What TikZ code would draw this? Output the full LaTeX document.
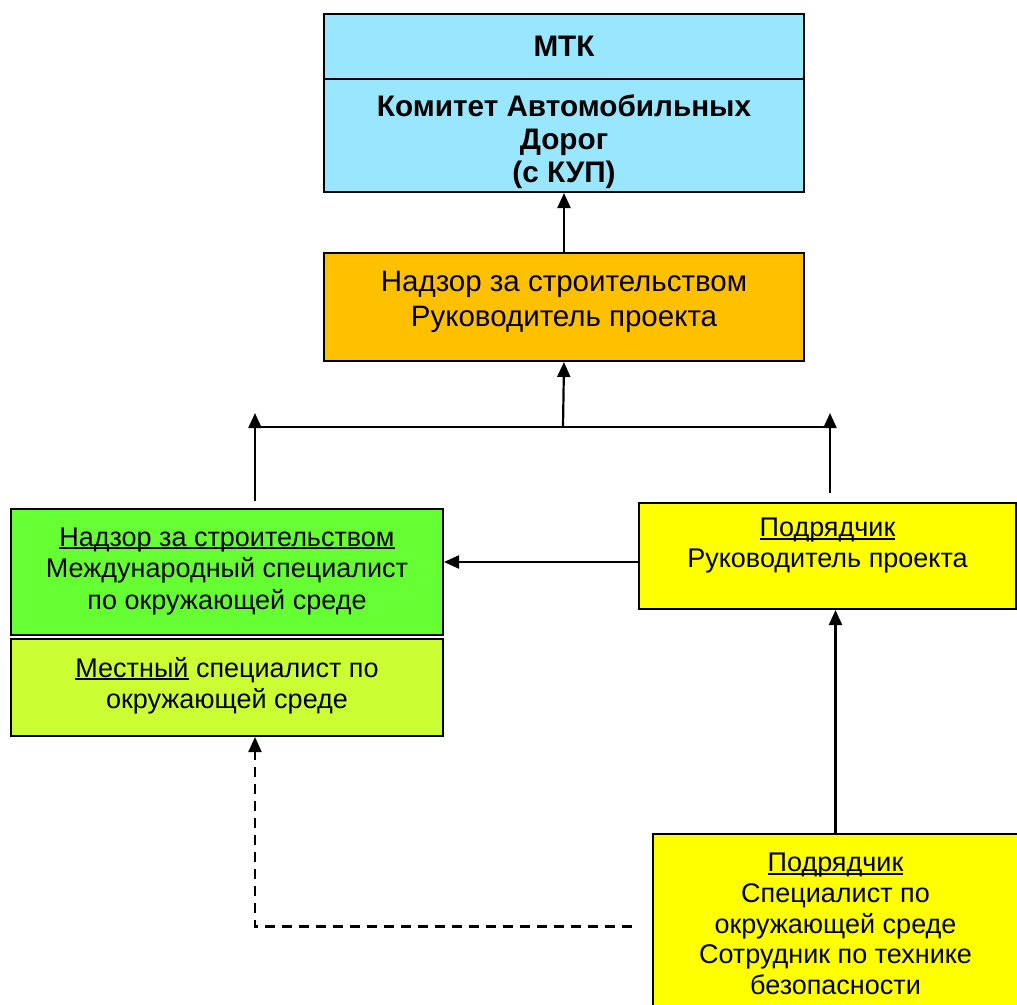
\documentclass[tikz,border=0pt]{standalone}
\usepackage{fontspec}
\setmainfont{Liberation Sans}
\usetikzlibrary{positioning,arrows.meta}
\definecolor{mtkblue}{RGB}{153,230,255}
\definecolor{superorange}{RGB}{255,192,0}
\definecolor{intlgreen}{RGB}{102,255,51}
\definecolor{locallime}{RGB}{204,255,51}
\definecolor{conyellow}{RGB}{255,255,0}
\newcommand{\undr}[1]{\setbox0\hbox{#1}\rlap{\rule[-3pt]{\wd0}{1.8pt}}\box0\relax}

\begin{document}
\begin{tikzpicture}[
    x=1pt, y=1pt,
    box/.style={draw, line width=2pt, anchor=north west, inner sep=0pt},
    txt/.style={align=center, font=\fontsize{27}{31.5}\selectfont, inner sep=0pt, anchor=north},
    boldtxt/.style={align=center, font=\bfseries\fontsize{29.7}{33}\selectfont, inner sep=0pt},
    arrow/.style={-{Triangle[length=15pt,width=13pt]}, line width=2.2pt},
    line/.style={line width=2.2pt}
]
\useasboundingbox (0,0) rectangle (1017,-1004);

% MTK and committee
\node[box, boldtxt, anchor=north west, fill=mtkblue, minimum width=480pt, minimum height=65pt] (mtk) at (323,-13) {МТК};
\node[box, fill=mtkblue, minimum width=480pt, minimum height=113pt] (kad) at (323,-78) {};
\node[boldtxt, anchor=north, below=17pt of kad.north] {Комитет Автомобильных\\Дорог\\(с КУП)};

% Supervision
\node[box, fill=superorange, minimum width=480pt, minimum height=108pt] (super) at (323,-252) {};
\node[txt, font=\fontsize{29.5}{35}\selectfont, below=19pt of super.north] {Надзор за строительством\\Руководитель проекта};

% Environmental specialists
\node[box, fill=intlgreen, minimum width=432pt, minimum height=126pt] (intl) at (10,-508) {};
\node[txt, below=19.5pt of intl.north] {\undr{Надзор за строительством}\\Международный специалист\\по окружающей среде};
\node[box, fill=locallime, minimum width=432pt, minimum height=97pt] (local) at (10,-638) {};
\node[txt, font=\fontsize{27}{31}\selectfont, below=19pt of local.north] {\undr{Местный} специалист по\\окружающей среде};

% Contractor
\node[box, fill=conyellow, minimum width=377pt, minimum height=106pt] (conpm) at (638,-502) {};
\node[txt, font=\fontsize{27}{31}\selectfont, below=16pt of conpm.north] {\undr{Подрядчик}\\Руководитель проекта};
\node[box, fill=conyellow, minimum width=365pt, minimum height=185pt] (conenv) at (652,-833) {};
\node[txt, font=\fontsize{27}{30.7}\selectfont, below=20pt of conenv.north] {\undr{Подрядчик}\\Специалист по\\окружающей среде\\Сотрудник по технике\\безопасности};

% Connectors
\coordinate (bus) at (563,-427);
\coordinate (busl) at (255,-427);
\coordinate (busr) at (830,-427);
\draw[arrow] (super.north) -- (kad.south);
\draw[arrow] (bus) -- (super.south);
\draw[line] (busl) -- (busr);
\draw[arrow, shorten <=7pt] (intl.north -| busl) -- ([yshift=14pt]busl);
\draw[arrow, shorten <=9pt] (conpm.north -| busr) -- ([yshift=14pt]busr);
\draw[arrow] ([yshift=-6pt]conpm.west) -- ([yshift=-6pt]intl.east |- conpm.west);
\draw[arrow] (conenv.north) -- (conenv.north |- conpm.south);
\draw[arrow, dash pattern=on 10pt off 7pt] ([xshift=-20pt]conenv.west) -| (busl |- local.south);

\end{tikzpicture}
\end{document}
